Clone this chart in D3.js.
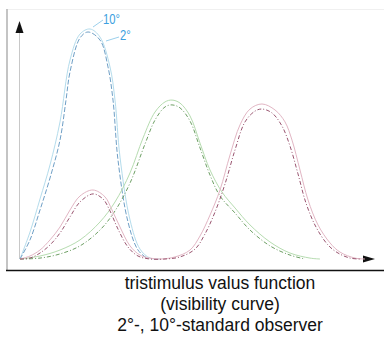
<!DOCTYPE html>
<html>
<head>
<meta charset="utf-8">
<script src="https://cdn.jsdelivr.net/npm/d3@7"></script>
<style>
  html, body { margin: 0; padding: 0; background: #fff; }
  svg { display: block; }
  .title { font-family: "Liberation Sans", Arial, sans-serif; font-size: 17.5px; fill: #111; }
  .deg { font-family: "Liberation Sans", Arial, sans-serif; font-size: 15px; fill: #3d9fe0; }
</style>
</head>
<body>
<svg width="384" height="340"></svg>
<script>
  // DATA (wavelength-ish position, relative value)
  const blue10 = [[380,0],[390,0.117],[400,0.261],[410,0.409],[420,0.596],[430,0.865],[440,0.978],[450,1.0],[460,0.965],[470,0.835],[475,0.691],[480,0.443],[490,0.170],[500,0.043],[510,0.004],[520,0]];
  const blue2 = [[380,0],[390,0.083],[400,0.213],[410,0.352],[420,0.517],[426,0.691],[430,0.813],[440,0.961],[448,0.987],[460,0.952],[468,0.835],[473,0.691],[478,0.430],[488,0.161],[498,0.039],[508,0]];
  const green10 = [[380,0],[400,0.013],[420,0.039],[440,0.083],[460,0.161],[475,0.248],[490,0.374],[503,0.526],[515,0.639],[525,0.683],[532,0.691],[540,0.678],[550,0.622],[560,0.504],[570,0.387],[582,0.291],[595,0.222],[610,0.148],[630,0.074],[650,0.026],[670,0.004],[680,0]];
  const green2 = [[380,0],[400,0.004],[420,0.022],[440,0.057],[460,0.126],[475,0.209],[490,0.330],[505,0.500],[515,0.604],[525,0.661],[532,0.670],[540,0.657],[550,0.600],[560,0.483],[570,0.365],[580,0.274],[595,0.200],[610,0.126],[630,0.057],[650,0.017],[665,0]];
  const red10 = [[380,0],[390,0.013],[400,0.039],[410,0.083],[420,0.139],[430,0.213],[440,0.274],[453,0.300],[465,0.270],[472,0.213],[480,0.139],[490,0.057],[500,0.017],[510,0.004],[520,0],[535,0.009],[550,0.039],[560,0.100],[570,0.191],[580,0.300],[590,0.452],[600,0.583],[610,0.652],[622,0.674],[635,0.648],[645,0.596],[652,0.517],[660,0.387],[668,0.257],[678,0.148],[690,0.070],[700,0.030],[715,0.004],[725,0]];
  const red2 = [[380,0],[390,0.004],[400,0.026],[410,0.061],[420,0.113],[430,0.183],[440,0.248],[453,0.283],[463,0.261],[470,0.209],[478,0.130],[488,0.052],[498,0.013],[510,0],[525,0],[540,0.009],[555,0.043],[565,0.109],[575,0.204],[585,0.326],[595,0.474],[605,0.596],[615,0.643],[622,0.652],[632,0.635],[642,0.578],[650,0.491],[658,0.370],[666,0.243],[676,0.139],[688,0.061],[698,0.026],[710,0.004],[720,0]];

  const labels = ["10°", "2°"];
  const titleLines = ["tristimulus valus function", "(visibility curve)", "2°-, 10°-standard observer"];

  const svg = d3.select("svg");
  const width = +svg.attr("width");

  const render = () => {
    const xScale = d3.scaleLinear().domain([380, 730]).range([20, 370]);
    const yScale = d3.scaleLinear().domain([0, 1]).range([259, 29]);

    // FRAME
    svg.append("line").attr("x1", 6).attr("x2", width).attr("y1", 9.5).attr("y2", 9.5)
      .attr("stroke", "#f0f0f0");
    svg.append("line").attr("x1", 7).attr("x2", 7).attr("y1", 9).attr("y2", 270)
      .attr("stroke", "#c4c4c4").attr("stroke-width", 2);
    svg.append("line").attr("x1", 6).attr("x2", width).attr("y1", 270.5).attr("y2", 270.5)
      .attr("stroke", "#111").attr("stroke-width", 1.5);

    // AXES (arrows only)
    const x0 = xScale(380) - 0.5;
    const y0 = yScale(0);
    svg.append("line").attr("x1", x0).attr("x2", x0).attr("y1", 32).attr("y2", y0)
      .attr("stroke", "#c8c8c8");
    svg.append("path").attr("d", `M${x0},21 L${x0 - 4},33 L${x0 + 4},33 Z`).attr("fill", "#111");
    const xa = xScale(730) + 5;
    svg.append("path").attr("d", `M${xa},${y0} L${xa - 12},${y0 - 3.5} L${xa - 12},${y0 + 3.5} Z`).attr("fill", "#111");

    // CURVES
    const line = d3.line()
      .x((d) => xScale(d[0]))
      .y((d) => yScale(d[1]))
      .curve(d3.curveCatmullRom.alpha(0.5));

    const series = [
      { data: blue10, color: "#b4dcec", dash: null },
      { data: blue2, color: "#6f9fc6", dash: "5,2" },
      { data: green10, color: "#b6dcb0", dash: null },
      { data: green2, color: "#6d9f64", dash: "4,2,1,2" },
      { data: red10, color: "#e2b6c4", dash: null },
      { data: red2, color: "#9a5570", dash: "4,2,1,2" }
    ];
    svg.selectAll("path.curve")
      .data(series)
      .enter()
      .append("path")
      .attr("class", "curve")
      .attr("d", (d) => line(d.data))
      .attr("fill", "none")
      .attr("stroke", (d) => d.color)
      .attr("stroke-width", 1)
      .attr("stroke-dasharray", (d) => d.dash);

    // LABELS
    svg.append("line").attr("x1", 93).attr("y1", 27).attr("x2", 103).attr("y2", 20)
      .attr("stroke", "#9cd0ec");
    svg.append("line").attr("x1", 106).attr("y1", 41).attr("x2", 119).attr("y2", 37)
      .attr("stroke", "#9cd0ec");
    svg.append("text").attr("class", "deg")
      .attr("transform", "translate(103,24) scale(0.75,1)").text(labels[0]);
    svg.append("text").attr("class", "deg")
      .attr("transform", "translate(120,40) scale(0.75,1)").text(labels[1]);

    // TITLE
    svg.selectAll("text.title")
      .data(titleLines)
      .enter()
      .append("text")
      .attr("class", "title")
      .attr("x", 220)
      .attr("y", (d, i) => 289 + i * 21)
      .attr("text-anchor", "middle")
      .text((d) => d);
  };

  render();
</script>
</body>
</html>
